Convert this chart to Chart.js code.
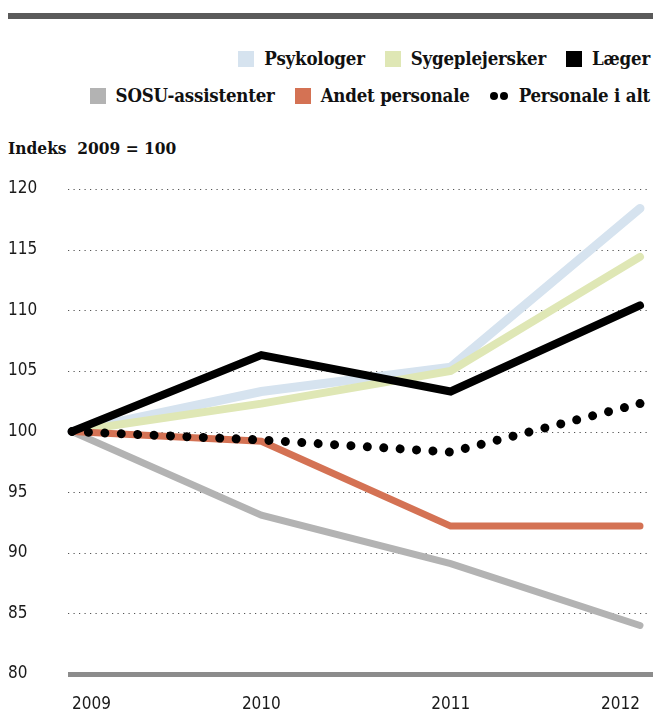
<!DOCTYPE html>
<html>
<head>
<meta charset="utf-8">
<script src="https://cdn.jsdelivr.net/npm/chart.js@4.4.1/dist/chart.umd.min.js"></script>
<style>
  html, body { margin: 0; padding: 0; background: #fff; }
  #wrap { position: relative; width: 653px; height: 711px; overflow: hidden; }
  #topbar { position: absolute; left: 8px; top: 13px; width: 645px; height: 6px; background: #5a5a5a; }
  .row { position: absolute; right: 3px; height: 22px; display: flex; align-items: center; justify-content: flex-end; }
  .item { display: flex; align-items: center; margin-left: 20px; }
  .leg { font-family: "DejaVu Serif Condensed", "DejaVu Serif", serif; font-weight: bold; font-size: 18.5px; color: #111; white-space: nowrap; line-height: 22px; letter-spacing: -0.2px; }
  .sw { width: 16px; height: 16px; margin-right: 10px; }
  .dot { width: 8px; height: 8px; border-radius: 50%; background: #000; margin-right: 2px; }
  #title { position: absolute; left: 8px; top: 138px; font-family: "DejaVu Serif Condensed", "DejaVu Serif", serif; font-weight: bold; font-size: 17.2px; color: #111; white-space: nowrap; }
  canvas { position: absolute; left: 0; top: 0; }
</style>
</head>
<body>
<div id="wrap">
  <div id="topbar"></div>
  <div id="row1" class="row" style="top:48px"></div>
  <div id="row2" class="row" style="top:85px"></div>
  <div id="title">Indeks&nbsp;&nbsp;2009 = 100</div>
  <canvas id="c" width="653" height="711"></canvas>
</div>
<script>
const years = ['2009', '2010', '2011', '2012'];
const psykologer = [100, 103.3, 105.3, 118.4];
const sygeplejersker = [100, 102.3, 105.0, 114.4];
const laeger = [100, 106.3, 103.3, 110.4];
const sosu = [100, 93.1, 89.1, 84.0];
const andet = [100, 99.2, 92.2, 92.2];
const personaleIAlt = [100, 99.3, 98.3, 102.3];
const yTicks = [80, 85, 90, 95, 100, 105, 110, 115, 120];

const legendRows = [
  [ { label: 'Psykologer', color: '#d6e3ef' },
    { label: 'Sygeplejersker', color: '#dfe7b5' },
    { label: 'Læger', color: '#000000' } ],
  [ { label: 'SOSU-assistenter', color: '#b3b3b3' },
    { label: 'Andet personale', color: '#d47254' },
    { label: 'Personale i alt', dots: true } ]
];
legendRows.forEach((row, ri) => {
  const rowEl = document.getElementById('row' + (ri + 1));
  row.forEach(it => {
    const item = document.createElement('div');
    item.className = 'item';
    if (it.dots) {
      const d1 = document.createElement('div'); d1.className = 'dot';
      const d2 = document.createElement('div'); d2.className = 'dot'; d2.style.marginRight = '11px';
      item.appendChild(d1); item.appendChild(d2);
    } else {
      const s = document.createElement('div');
      s.className = 'sw';
      s.style.background = it.color;
      item.appendChild(s);
    }
    const t = document.createElement('span');
    t.className = 'leg';
    t.textContent = it.label;
    item.appendChild(t);
    rowEl.appendChild(item);
  });
});

const gridPlugin = {
  id: 'customGrid',
  beforeDatasetsDraw(chart) {
    const ctx = chart.ctx;
    const ys = chart.scales.y;
    const area = chart.chartArea;
    ctx.save();
    yTicks.forEach(v => {
      const py = Math.round(ys.getPixelForValue(v)) + 0.5;
      if (v === ys.min) {
        ctx.setLineDash([]);
        ctx.strokeStyle = '#8c8c8c';
        ctx.lineWidth = 5;
        ctx.beginPath();
        ctx.moveTo(area.left - 4, py);
        ctx.lineTo(chart.width, py);
        ctx.stroke();
      } else {
        ctx.setLineDash([1.2, 4.3]);
        ctx.strokeStyle = '#555';
        ctx.lineWidth = 1.2;
        ctx.beginPath();
        ctx.moveTo(area.left - 4, py);
        ctx.lineTo(area.right + 8, py);
        ctx.stroke();
      }
    });
    ctx.restore();
  }
};

const lineBase = { pointRadius: 0, pointHoverRadius: 0, fill: false, tension: 0, clip: false, borderCapStyle: 'round' };

new Chart(document.getElementById('c'), {
  type: 'line',
  data: {
    labels: years,
    datasets: [
      { ...lineBase, label: 'Personale i alt', data: personaleIAlt, borderColor: '#000', borderWidth: 9, borderDash: [0.01, 16.42],
        pointRadius: [0, 0, 0, 4.5], pointBackgroundColor: '#000', pointBorderWidth: 0, order: 1 },
      { ...lineBase, label: 'Læger', data: laeger, borderColor: '#000', borderWidth: 8, order: 2 },
      { ...lineBase, label: 'Andet personale', data: andet, borderColor: '#d47254', borderWidth: 7, order: 3 },
      { ...lineBase, label: 'Sygeplejersker', data: sygeplejersker, borderColor: '#dfe7b5', borderWidth: 8, order: 4 },
      { ...lineBase, label: 'Psykologer', data: psykologer, borderColor: '#d6e3ef', borderWidth: 9, order: 5 },
      { ...lineBase, label: 'SOSU-assistenter', data: sosu, borderColor: '#b3b3b3', borderWidth: 7, order: 6 }
    ]
  },
  options: {
    responsive: false,
    animation: false,
    events: [],
    layout: { padding: { top: 189, left: 8, right: 13, bottom: 0 } },
    plugins: { legend: { display: false }, tooltip: { enabled: false } },
    scales: {
      x: {
        offset: false,
        grid: { display: false, drawTicks: false },
        border: { display: false },
        ticks: { align: 'inner', padding: 20, color: '#1a1a1a', font: { family: 'DejaVu Sans Condensed', size: 17 }, maxRotation: 0, autoSkip: false },
        afterFit(scale) { scale.height = 37; scale.paddingLeft = 0; scale.paddingRight = 0; }
      },
      y: {
        min: 80, max: 120,
        grid: { display: false, drawTicks: false },
        border: { display: false },
        afterBuildTicks(scale) { scale.ticks = yTicks.map(v => ({ value: v })); },
        ticks: { crossAlign: 'far', padding: 0, color: '#1a1a1a', font: { family: 'DejaVu Sans Condensed', size: 17 } },
        afterFit(scale) { scale.width = 64; }
      }
    }
  },
  plugins: [gridPlugin]
});
</script>
</body>
</html>
